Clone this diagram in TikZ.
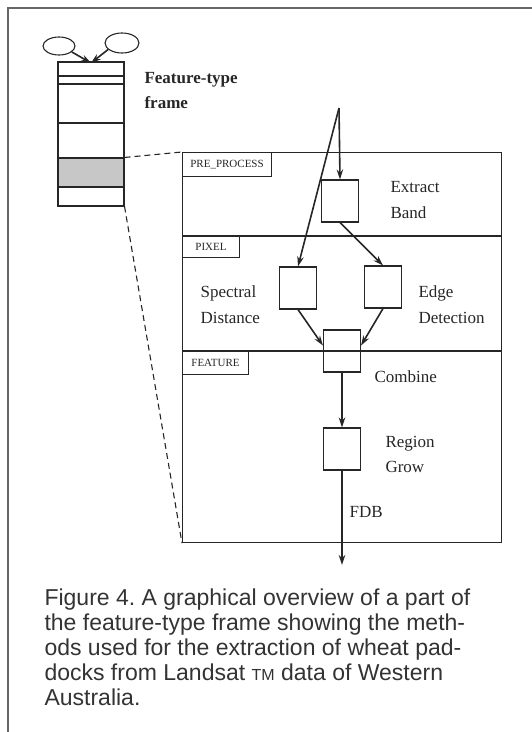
\documentclass[tikz,border=0pt]{standalone}
\usepackage{fontspec}
\setmainfont{Liberation Serif}
\newfontfamily\capfont{Liberation Sans}
\usetikzlibrary{arrows.meta,shapes.geometric}
\frenchspacing

\tikzset{
  proc/.style={draw, minimum width=37pt, minimum height=42pt, inner sep=0pt},
  tagbox/.style={draw, anchor=north west, minimum height=23pt, inner sep=0pt, font=\fontsize{11}{11}\selectfont},
  lbl/.style={anchor=west, align=left, inner sep=0pt, font=\fontsize{17}{25.5}\selectfont},
  flow/.style={-{Stealth[length=10pt,width=6.5pt]}, line width=1.6pt},
}

\begin{document}
\begin{tikzpicture}[x=1pt,y=-1pt,line width=1.1pt,color=black!85]
\useasboundingbox (0,0) rectangle (532,732);
\draw [line width=2pt,black!60](8,732)--(8,8)--(532,8);

% the frame and its slots
\node [ellipse,draw,minimum width=32pt,minimum height=18pt,inner sep=0pt] (lobj) at (59,46) {};
\node [ellipse,draw,minimum width=34pt,minimum height=20pt,inner sep=0pt] (robj) at (122,43) {};
\coordinate (ftop) at (91,63);
\draw [flow](lobj.-25)--(ftop);
\draw [flow](robj.205)--(ftop);
\node [draw,minimum width=66pt,minimum height=144pt,inner sep=0pt] (frm) at (91,134) {};
\node [draw,fill=black!22,minimum width=66pt,minimum height=29pt,inner sep=0pt] (slot) at (91,172.5) {};
\foreach \y in {76,84,123}
  \draw (58,\y)--(124,\y);
\node [lbl,font=\fontsize{17}{25}\selectfont\bfseries] (ftname) at (144,90.5) {Feature-type\\frame};

% the methods
\node [draw,anchor=north west,minimum width=319pt,minimum height=390pt,inner sep=0pt] (meth) at (182,152) {};
\draw (182,236)--(501,236);
\draw (182,351)--(501,351);
\node [tagbox,minimum width=89pt,minimum height=24pt] (pre) at (meth.north west) {PRE\_PROCESS};
\node [tagbox,minimum width=57pt,minimum height=21pt] (pix) at (182,236) {PIXEL};
\node [tagbox,minimum width=66pt] (feat) at (182,351) {FEATURE};
\draw [dashed,dash pattern=on 6pt off 4pt](slot.north east)--(meth.north west);
\draw [dashed,dash pattern=on 6pt off 4pt](frm.south east)--(meth.south west);

\coordinate (src) at (339,108);
\node [proc] (ext) at (340,201) {};
\node [proc] (spec) at (298,288) {};
\node [proc] (edge) at (383,287) {};
\node [proc] (comb) at (342,351) {};
\node [proc] (reg) at (342,449) {};
\coordinate (out) at (342,565);

\node [lbl] (extl) at (390,200) {Extract\\Band};
\node [lbl] (specl) at (200,304.5) {Spectral\\Distance};
\node [lbl] (edgel) at (418,304.5) {Edge\\Detection};
\node [lbl] (combl) at (374,377) {Combine};
\node [lbl] (regl) at (385,454.5) {Region\\Grow};
\node [lbl] (fdb) at (349,512) {FDB};

\draw [flow](src)--(ext.north);
\draw [flow](src)--(spec.north);
\draw [flow](ext.south)--(edge.north);
\draw [flow](spec.south)--(comb.164);
\draw [flow](edge.south)--(comb.16);
\draw [flow](comb.south)--(reg.north);
\draw [flow](reg.south)--(out);

\node [anchor=west,align=left,inner sep=0pt,text=black!80,font=\capfont\fontsize{23}{25}\selectfont] (cap) at (44,647)
  {Figure 4. A graphical overview of a part of\\
   the feature-type frame showing the meth-\\
   ods used for the extraction of wheat pad-\\
   docks from Landsat {\fontsize{16}{16}\selectfont TM} data of Western\\
   Australia.};
\end{tikzpicture}
\end{document}
